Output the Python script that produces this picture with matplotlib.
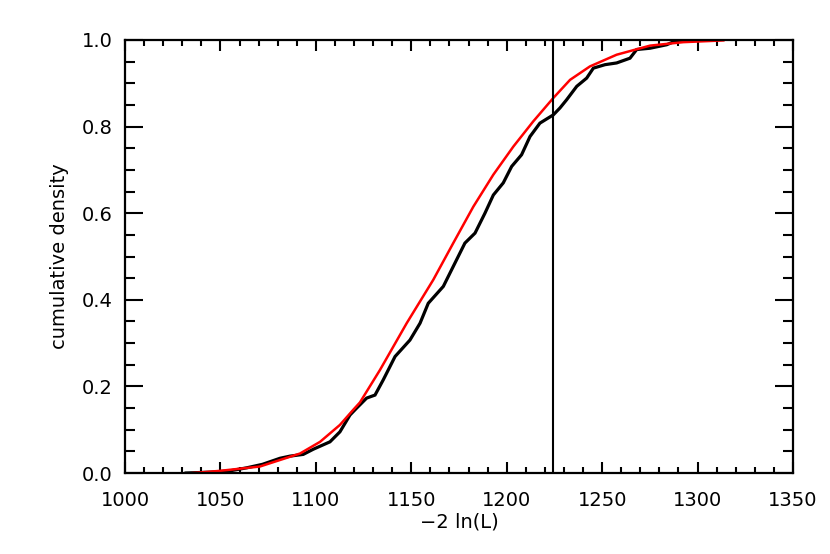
import matplotlib
matplotlib.use("Agg")
import matplotlib.pyplot as plt
from matplotlib.ticker import MultipleLocator

ecdf_x = [1032, 1045, 1055, 1063.8, 1072, 1081.2, 1086.5, 1093.4, 1098.7, 1107.4,
          1112.6, 1117.9, 1121.4, 1126.6, 1131.0, 1135.3, 1141.5, 1149.3, 1154.6,
          1158.9, 1166.8, 1172.9, 1178.1, 1183.4, 1188.6, 1193.0, 1198.2, 1202.6,
          1207.8, 1212.2, 1217.4, 1221.8, 1224.4, 1227.9, 1231.4, 1236.7, 1241.9,
          1245.4, 1251.5, 1257.6, 1264.6, 1268.1, 1275.1, 1283.8, 1289.1, 1295.0]
ecdf_y = [0.000, 0.002, 0.005, 0.012, 0.020, 0.034, 0.039, 0.043, 0.055, 0.072,
          0.095, 0.134, 0.150, 0.173, 0.180, 0.215, 0.269, 0.307, 0.346,
          0.392, 0.431, 0.485, 0.531, 0.554, 0.600, 0.642, 0.670, 0.708,
          0.735, 0.777, 0.808, 0.820, 0.827, 0.843, 0.862, 0.893, 0.912,
          0.935, 0.943, 0.947, 0.958, 0.978, 0.981, 0.989, 0.999, 1.000]

# Model cumulative distribution (red)
model_x = [1035.6, 1049.8, 1070.7, 1081.2, 1091.7, 1102.2, 1112.6, 1119.6, 1123.1,
           1133.6, 1147.6, 1161.5, 1172.0, 1182.5, 1193.0, 1203.5, 1213.9, 1224.4,
           1233.2, 1243.6, 1257.6, 1275.1, 1292.5, 1313.5]
model_y = [0.000, 0.005, 0.015, 0.030, 0.045, 0.072, 0.111, 0.146, 0.163,
           0.238, 0.346, 0.446, 0.531, 0.615, 0.689, 0.754, 0.812, 0.866,
           0.908, 0.939, 0.966, 0.987, 0.995, 0.999]

observed_value = 1224.4

x_ticks = [1000, 1050, 1100, 1150, 1200, 1250, 1300, 1350]
y_ticks = [0.0, 0.2, 0.4, 0.6, 0.8, 1.0]
y_tick_labels = ["0.0", "0.2", "0.4", "0.6", "0.8", "1.0"]

plt.rcParams['font.family'] = ['DejaVu Sans']
fig = plt.figure(figsize=(8.3, 5.54), dpi=100)
ax = fig.add_axes([0.1506, 0.1462, 0.9554 - 0.1506, 0.9278 - 0.1462])

ax.plot(ecdf_x, ecdf_y, color='black', lw=2.3, solid_joinstyle='miter')
ax.plot(model_x, model_y, color='#ff0000', lw=1.8)
ax.axvline(observed_value, color='black', lw=1.5)

ax.set_xlim(1000, 1350)
ax.set_ylim(0, 1)
ax.set_xticks(x_ticks)
ax.set_xticklabels([str(v) for v in x_ticks])
ax.set_yticks(y_ticks)
ax.set_yticklabels(y_tick_labels)
ax.xaxis.set_minor_locator(MultipleLocator(10))
ax.yaxis.set_minor_locator(MultipleLocator(0.05))

ax.tick_params(which='both', direction='in', top=True, right=True, width=1.5,
               labelsize=14)
ax.tick_params(axis='x', which='major', length=8, pad=13)
ax.tick_params(axis='x', which='minor', length=4)
ax.tick_params(axis='y', which='major', length=13, pad=9)
ax.tick_params(axis='y', which='minor', length=7)
for s in ax.spines.values():
    s.set_linewidth(1.6)

ax.set_xlabel("\u22122 ln(L)", fontsize=14, labelpad=2)
ax.set_ylabel("cumulative density", fontsize=14, labelpad=9)

fig.savefig("out.png", dpi=100)
